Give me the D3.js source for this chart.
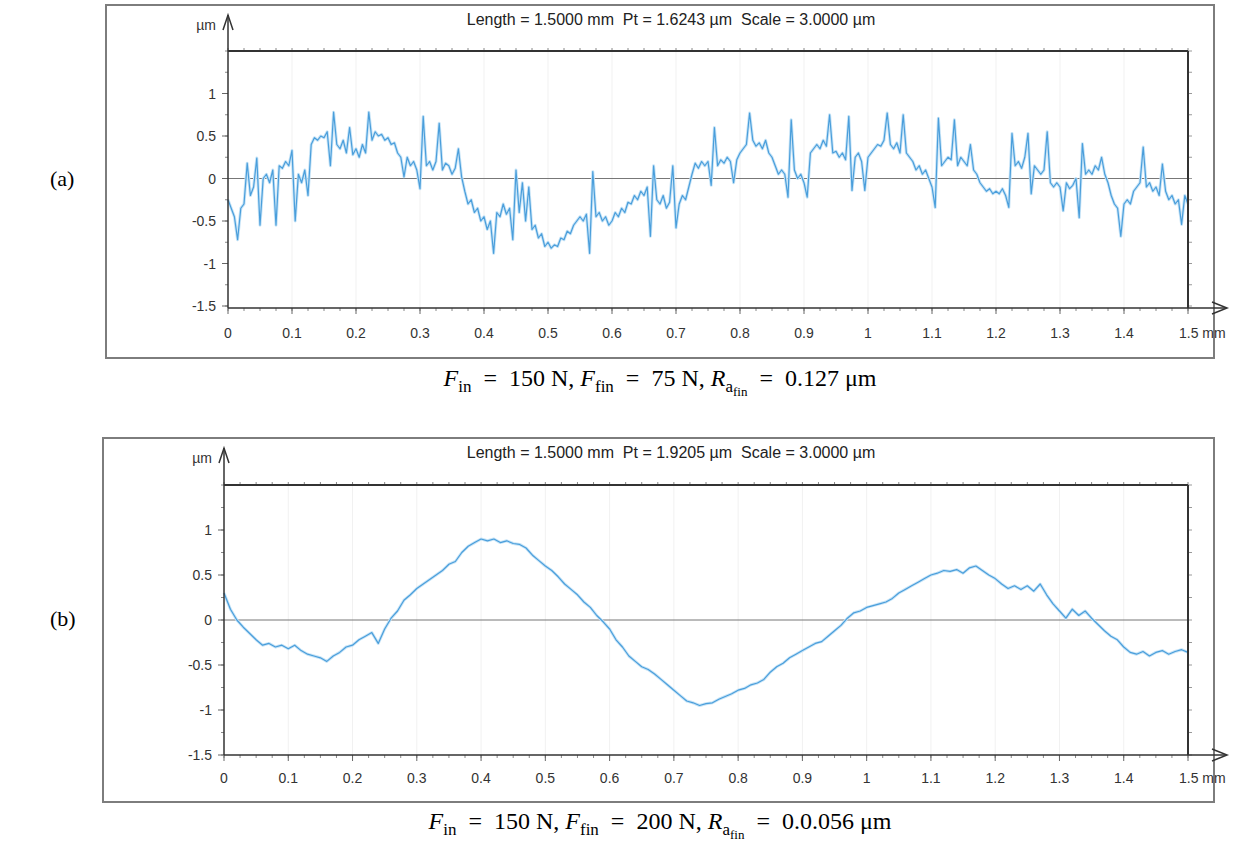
<!DOCTYPE html>
<html>
<head>
<meta charset="utf-8">
<script src="https://cdn.jsdelivr.net/npm/d3@7"></script>
<style>
  body { margin: 0; background: #ffffff; }
  svg { display: block; }
</style>
</head>
<body>
<div id="chart"></div>
<script>
// profile (a): sampled every 0.005 mm, 0 .. 1.5 mm, values in µm
const profileA = [
  -0.25, -0.35, -0.45, -0.72, -0.35, -0.30, 0.18, -0.20, -0.10, 0.24, -0.55, 0.00, 0.05, -0.05, 0.10, -0.55, 0.15, 0.12, 0.20, 0.15,
  0.33, -0.50, 0.05, -0.05, 0.10, -0.20, 0.40, 0.48, 0.45, 0.50, 0.48, 0.55, 0.15, 0.78, 0.40, 0.35, 0.45, 0.30, 0.60, 0.28,
  0.35, 0.25, 0.40, 0.30, 0.78, 0.45, 0.55, 0.50, 0.52, 0.45, 0.48, 0.40, 0.42, 0.30, 0.25, 0.02, 0.25, 0.15, 0.20, 0.10,
  -0.12, 0.73, 0.15, 0.20, 0.10, 0.20, 0.65, 0.10, 0.18, 0.15, 0.05, 0.12, 0.35, 0.02, -0.15, -0.30, -0.25, -0.40, -0.35, -0.50,
  -0.45, -0.60, -0.50, -0.88, -0.40, -0.45, -0.30, -0.42, -0.35, -0.72, 0.10, -0.40, -0.05, -0.50, -0.10, -0.60, -0.55, -0.70, -0.65, -0.80,
  -0.75, -0.82, -0.78, -0.80, -0.70, -0.72, -0.62, -0.65, -0.55, -0.50, -0.45, -0.50, -0.42, -0.88, 0.08, -0.45, -0.40, -0.50, -0.45, -0.55,
  -0.50, -0.40, -0.45, -0.35, -0.40, -0.28, -0.30, -0.20, -0.25, -0.15, -0.20, -0.10, -0.68, 0.15, -0.25, -0.30, -0.20, -0.35, -0.28, 0.15,
  -0.58, -0.30, -0.20, -0.25, -0.10, 0.05, 0.18, 0.12, 0.20, 0.15, 0.20, -0.08, 0.60, 0.15, 0.22, 0.18, 0.25, 0.20, -0.05, 0.22,
  0.30, 0.35, 0.40, 0.77, 0.45, 0.38, 0.42, 0.35, 0.45, 0.30, 0.25, 0.15, 0.05, 0.10, 0.05, -0.22, 0.69, 0.10, 0.00, 0.05,
  -0.05, -0.22, 0.30, 0.35, 0.40, 0.35, 0.45, 0.38, 0.75, 0.30, 0.32, 0.25, 0.30, 0.22, 0.73, -0.14, 0.25, 0.30, 0.20, -0.14,
  0.25, 0.30, 0.35, 0.40, 0.38, 0.45, 0.77, 0.40, 0.35, 0.42, 0.30, 0.75, 0.30, 0.25, 0.20, 0.10, 0.15, 0.05, 0.10, 0.00,
  -0.10, -0.34, 0.71, 0.15, 0.20, 0.25, 0.22, 0.69, 0.15, 0.25, 0.20, 0.15, 0.40, 0.10, 0.05, -0.05, -0.10, -0.15, -0.12, -0.18,
  -0.15, -0.18, -0.12, -0.20, -0.34, 0.53, 0.15, 0.20, 0.12, 0.25, 0.53, -0.18, 0.15, 0.10, 0.05, 0.10, 0.55, -0.05, -0.10, -0.05,
  -0.10, -0.38, -0.05, -0.12, -0.08, 0.00, -0.46, 0.41, 0.05, 0.10, 0.05, 0.15, 0.10, 0.25, 0.05, -0.05, -0.20, -0.30, -0.35, -0.68,
  -0.30, -0.25, -0.30, -0.15, -0.10, -0.05, 0.37, -0.10, -0.05, -0.15, -0.10, -0.20, 0.17, -0.15, -0.25, -0.20, -0.30, -0.25, -0.54, -0.20,
  -0.30
];
const stepA = 0.005;

// profile (b): sampled every 0.01 mm, 0 .. 1.5 mm, values in µm
const profileB = [
  0.30, 0.12, 0.00, -0.08, -0.15, -0.22, -0.28, -0.26, -0.30, -0.28,
  -0.32, -0.28, -0.34, -0.38, -0.40, -0.42, -0.46, -0.40, -0.36, -0.30,
  -0.28, -0.22, -0.18, -0.14, -0.26, -0.10, 0.02, 0.10, 0.22, 0.28,
  0.35, 0.40, 0.45, 0.50, 0.55, 0.62, 0.65, 0.75, 0.82, 0.86,
  0.90, 0.88, 0.90, 0.86, 0.88, 0.85, 0.84, 0.80, 0.72, 0.66,
  0.60, 0.55, 0.48, 0.40, 0.34, 0.28, 0.20, 0.14, 0.05, -0.02,
  -0.10, -0.22, -0.30, -0.40, -0.46, -0.52, -0.55, -0.60, -0.66, -0.72,
  -0.78, -0.84, -0.90, -0.92, -0.95, -0.93, -0.92, -0.88, -0.85, -0.82,
  -0.78, -0.76, -0.72, -0.70, -0.66, -0.58, -0.52, -0.48, -0.42, -0.38,
  -0.34, -0.30, -0.26, -0.24, -0.18, -0.12, -0.06, 0.02, 0.08, 0.10,
  0.14, 0.16, 0.18, 0.20, 0.24, 0.30, 0.34, 0.38, 0.42, 0.46,
  0.50, 0.52, 0.55, 0.54, 0.56, 0.52, 0.58, 0.60, 0.55, 0.50,
  0.46, 0.40, 0.35, 0.38, 0.34, 0.38, 0.32, 0.40, 0.28, 0.18,
  0.10, 0.02, 0.12, 0.05, 0.10, 0.02, -0.05, -0.12, -0.18, -0.22,
  -0.30, -0.36, -0.38, -0.35, -0.40, -0.36, -0.34, -0.38, -0.35, -0.33,
  -0.36
];
const stepB = 0.01;

const xTicks = [0, 0.1, 0.2, 0.3, 0.4, 0.5, 0.6, 0.7, 0.8, 0.9, 1, 1.1, 1.2, 1.3, 1.4, 1.5];
const xTickLabels = ["0", "0.1", "0.2", "0.3", "0.4", "0.5", "0.6", "0.7", "0.8", "0.9", "1", "1.1", "1.2", "1.3", "1.4", "1.5 mm"];
const yTicks = [-1.5, -1, -0.5, 0, 0.5, 1];
const yTickLabels = ["-1.5", "-1", "-0.5", "0", "0.5", "1"];

const headerA = "Length = 1.5000 mm  Pt = 1.6243 µm  Scale = 3.0000 µm";
const headerB = "Length = 1.5000 mm  Pt = 1.9205 µm  Scale = 3.0000 µm";

// math-style spacing round "="
const EQ = "\u2002=\u2002";
const captionA = [
  { t: "F", it: true }, { t: "in", lv: 1 }, { t: EQ + "150 N, " },
  { t: "F", it: true }, { t: "fin", lv: 1 }, { t: EQ + "75 N, " },
  { t: "R", it: true }, { t: "a", lv: 1 }, { t: "fin", lv: 2 }, { t: EQ + "0.127 μm" }
];
const captionB = [
  { t: "F", it: true }, { t: "in", lv: 1 }, { t: EQ + "150 N, " },
  { t: "F", it: true }, { t: "fin", lv: 1 }, { t: EQ + "200 N, " },
  { t: "R", it: true }, { t: "a", lv: 1 }, { t: "fin", lv: 2 }, { t: EQ + "0.0.056 μm" }
];

const W = 1234, H = 854;
const sans = "'Liberation Sans', Arial, sans-serif";
const serif = "'Liberation Serif', 'Times New Roman', serif";

const svg = d3.select("#chart").append("svg")
  .attr("width", W)
  .attr("height", H);

const panels = [
  {
    tag: "(a)", values: profileA, step: stepA, header: headerA, caption: captionA,
    frame: { x: 106, y: 5, w: 1108, h: 353 },
    x0: 228, x1: 1188, yTop: 51, yBot: 306, axisY: 308, arrowTop: 15,
    tickLabelY: 338, captionY: 386, tagY: 186
  },
  {
    tag: "(b)", values: profileB, step: stepB, header: headerB, caption: captionB,
    frame: { x: 103, y: 438, w: 1111, h: 364 },
    x0: 224, x1: 1188, yTop: 485, yBot: 755, axisY: 755, arrowTop: 448,
    tickLabelY: 783, captionY: 829, tagY: 626
  }
];

panels.forEach(drawPanel);

function drawPanel(p) {
  const g = svg.append("g");

  const x = d3.scaleLinear().domain([0, 1.5]).range([p.x0, p.x1]);
  const y = d3.scaleLinear().domain([-1.5, 1.5]).range([p.yBot, p.yTop]);

  // outer frame
  g.append("rect")
    .attr("x", p.frame.x)
    .attr("y", p.frame.y)
    .attr("width", p.frame.w)
    .attr("height", p.frame.h)
    .attr("fill", "#ffffff")
    .attr("stroke", "#7d7d7d")
    .attr("stroke-width", 2);

  // faint vertical grid
  g.selectAll(".grid")
    .data(xTicks.slice(1, -1))
    .enter()
    .append("line")
    .attr("x1", d => x(d))
    .attr("x2", d => x(d))
    .attr("y1", p.yTop)
    .attr("y2", p.axisY)
    .attr("stroke", "#f1f1f1")
    .attr("stroke-width", 1);

  // zero line
  g.append("line")
    .attr("x1", x(0))
    .attr("x2", x(1.5))
    .attr("y1", y(0))
    .attr("y2", y(0))
    .attr("stroke", "#777777")
    .attr("stroke-width", 1);

  // profile
  const line = d3.line()
    .x((d, i) => x(i * p.step))
    .y(d => y(d));

  g.append("path")
    .datum(p.values)
    .attr("fill", "none")
    .attr("stroke", "#c7e4f7")
    .attr("stroke-width", 3)
    .attr("stroke-linejoin", "round")
    .attr("d", line);

  g.append("path")
    .datum(p.values)
    .attr("fill", "none")
    .attr("stroke", "#4a9edb")
    .attr("stroke-width", 1.2)
    .attr("stroke-linejoin", "round")
    .attr("d", line);

  // minor ticks along top and bottom
  const minorX = d3.range(0, 1.5001, 0.025);
  g.selectAll(".minor-bot")
    .data(minorX)
    .enter()
    .append("line")
    .attr("x1", d => x(d))
    .attr("x2", d => x(d))
    .attr("y1", p.axisY)
    .attr("y2", p.axisY + 3)
    .attr("stroke", "#888888");

  g.selectAll(".minor-top")
    .data(minorX)
    .enter()
    .append("line")
    .attr("x1", d => x(d))
    .attr("x2", d => x(d))
    .attr("y1", p.yTop)
    .attr("y2", p.yTop - 3)
    .attr("stroke", "#888888");

  // minor ticks on the left and right uprights
  const minorY = d3.range(-1.5, 1.5001, 0.25);
  g.selectAll(".minor-left")
    .data(minorY)
    .enter()
    .append("line")
    .attr("x1", p.x0 - 3)
    .attr("x2", p.x0)
    .attr("y1", d => y(d))
    .attr("y2", d => y(d))
    .attr("stroke", "#888888");

  g.selectAll(".minor-right")
    .data(minorY)
    .enter()
    .append("line")
    .attr("x1", p.x1)
    .attr("x2", p.x1 + 4)
    .attr("y1", d => y(d))
    .attr("y2", d => y(d))
    .attr("stroke", "#999999");

  // major x ticks + labels
  g.selectAll(".xtick")
    .data(xTicks)
    .enter()
    .append("line")
    .attr("x1", d => x(d))
    .attr("x2", d => x(d))
    .attr("y1", p.axisY)
    .attr("y2", p.axisY + 6)
    .attr("stroke", "#666666");

  g.selectAll(".xlabel")
    .data(xTicks)
    .enter()
    .append("text")
    .attr("x", (d, i) => i === xTicks.length - 1 ? x(d) - 9 : x(d))
    .attr("y", p.tickLabelY)
    .attr("text-anchor", (d, i) => i === xTicks.length - 1 ? "start" : "middle")
    .style("font-family", sans)
    .style("font-size", "14px")
    .style("fill", "#333333")
    .text((d, i) => xTickLabels[i]);

  // major y ticks + labels
  g.selectAll(".ytick")
    .data(yTicks)
    .enter()
    .append("line")
    .attr("x1", p.x0 - 6)
    .attr("x2", p.x0)
    .attr("y1", d => y(d))
    .attr("y2", d => y(d))
    .attr("stroke", "#666666");

  g.selectAll(".ylabel")
    .data(yTicks)
    .enter()
    .append("text")
    .attr("x", p.x0 - 12)
    .attr("y", d => y(d) + 5)
    .attr("text-anchor", "end")
    .style("font-family", sans)
    .style("font-size", "14px")
    .style("fill", "#333333")
    .text((d, i) => yTickLabels[i]);

  // frame lines of the plot: top, right, axes
  g.append("line")
    .attr("x1", p.x0).attr("x2", p.x1)
    .attr("y1", p.yTop).attr("y2", p.yTop)
    .attr("stroke", "#333333").attr("stroke-width", 2);

  g.append("line")
    .attr("x1", p.x1).attr("x2", p.x1)
    .attr("y1", p.yTop).attr("y2", p.axisY)
    .attr("stroke", "#333333").attr("stroke-width", 2);

  g.append("line")
    .attr("x1", p.x0).attr("x2", p.x0)
    .attr("y1", p.axisY).attr("y2", p.arrowTop)
    .attr("stroke", "#333333").attr("stroke-width", 1.5);

  g.append("line")
    .attr("x1", p.x0).attr("x2", 1226)
    .attr("y1", p.axisY).attr("y2", p.axisY)
    .attr("stroke", "#333333").attr("stroke-width", 1.5);

  // arrow heads
  g.append("path")
    .attr("d", `M${p.x0 - 5},${p.arrowTop + 15} L${p.x0},${p.arrowTop} L${p.x0 + 5},${p.arrowTop + 15}`)
    .attr("fill", "none")
    .attr("stroke", "#333333")
    .attr("stroke-width", 1.5);

  g.append("path")
    .attr("d", `M1212,${p.axisY - 6} L1227,${p.axisY} L1212,${p.axisY + 6}`)
    .attr("fill", "none")
    .attr("stroke", "#333333")
    .attr("stroke-width", 1.5);

  // unit label
  g.append("text")
    .attr("x", p.x0 - 12)
    .attr("y", p.arrowTop + 15)
    .attr("text-anchor", "end")
    .style("font-family", sans)
    .style("font-size", "14px")
    .style("fill", "#333333")
    .text("µm");

  // header
  g.append("text")
    .attr("x", 671)
    .attr("y", p.frame.y + 20)
    .attr("text-anchor", "middle")
    .style("font-family", sans)
    .style("font-size", "16px")
    .style("fill", "#222222")
    .style("white-space", "pre")
    .text(p.header);

  // panel tag
  svg.append("text")
    .attr("x", 50)
    .attr("y", p.tagY)
    .style("font-family", serif)
    .style("font-size", "22px")
    .style("fill", "#000000")
    .text(p.tag);

  // caption with subscripts
  const cap = svg.append("text")
    .attr("x", 660)
    .attr("y", p.captionY)
    .attr("text-anchor", "middle")
    .style("font-family", serif)
    .style("fill", "#000000")
    .style("white-space", "pre");

  const shift = [0, 6, 10];
  const sizes = [24, 17, 13];
  let level = 0;
  p.caption.forEach(part => {
    const lv = part.lv || 0;
    cap.append("tspan")
      .attr("dy", shift[lv] - shift[level])
      .style("font-size", sizes[lv] + "px")
      .style("font-style", part.it ? "italic" : "normal")
      .text(part.t);
    level = lv;
  });
}
</script>
</body>
</html>
